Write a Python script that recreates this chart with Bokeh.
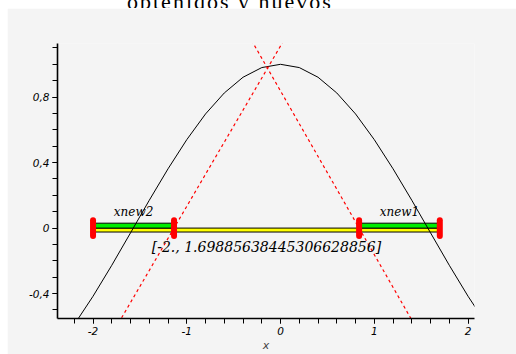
from bokeh.plotting import figure
from bokeh.models import Range1d, FixedTicker, CustomJSTickFormatter, Div, Spacer
from bokeh.layouts import column, row
from bokeh.core.properties import value
from bokeh.embed import file_html
from bokeh.resources import INLINE

# --- data -----------------------------------------------------------------
# f(x) sampled along the plotted range
curve_x = [-2.4, -2.2, -2.0, -1.8, -1.6, -1.4, -1.2, -1.0, -0.8, -0.6, -0.4, -0.2,
           0.0, 0.2, 0.4, 0.6, 0.8, 1.0, 1.2, 1.4, 1.6, 1.8, 2.0, 2.2]
curve_y = [-0.737, -0.589, -0.416, -0.227, -0.029, 0.170, 0.362, 0.540, 0.697, 0.825,
           0.921, 0.980, 1.000, 0.980, 0.921, 0.825, 0.697, 0.540, 0.362, 0.170,
           -0.029, -0.227, -0.416, -0.589]

interval = [-2.0, 1.69885638445306628856]   # [a, b]
interval_text = "[-2., 1.69885638445306628856]"
xnew1 = 0.838
xnew2 = -1.136
apex = (-0.139, 0.976)                      # where the two dashed lines meet

x_ticks = [-2, -1, 0, 1, 2]
y_ticks = [-0.4, 0.0, 0.4, 0.8]

# --- styles ---------------------------------------------------------------
BG = "#f4f4f4"
SERIF = "DejaVu Serif"
SANS = "DejaVu Sans"

p = figure(width=509, height=346,
           x_range=Range1d(-2.379, 2.069), y_range=Range1d(-0.552, 1.127),
           output_backend="svg", toolbar_location=None,
           min_border_left=50, min_border_right=42,
           min_border_top=35, min_border_bottom=34,
           background_fill_color=BG, border_fill_color=BG,
           outline_line_color=None, margin=0)
p.grid.visible = False

for ax in (p.xaxis[0], p.yaxis[0]):
    ax.axis_line_color = "black"
    ax.axis_line_width = 1.6
    ax.major_tick_in = 0
    ax.major_tick_out = 5
    ax.minor_tick_in = 0
    ax.minor_tick_out = 5
    ax.major_tick_line_color = "black"
    ax.minor_tick_line_color = "black"
    ax.major_label_text_font = SANS
    ax.major_label_text_font_style = "italic"
    ax.major_label_text_font_size = "10.5px"
    ax.major_label_text_color = "black"

p.xaxis.ticker = FixedTicker(ticks=x_ticks,
                             minor_ticks=[round(-2.4 + 0.2 * i, 1) for i in range(23)])
p.xaxis.formatter = CustomJSTickFormatter(code="return tick.toFixed(0);")
p.xaxis.major_label_standoff = 3
p.xaxis.axis_label = "x"
p.xaxis.axis_label_text_font = SANS
p.xaxis.axis_label_text_font_style = "italic"
p.xaxis.axis_label_text_font_size = "11px"
p.xaxis.axis_label_standoff = 1

p.yaxis.ticker = FixedTicker(ticks=y_ticks,
                             minor_ticks=[round(-0.5 + 0.1 * i, 1) for i in range(17)])
p.yaxis.formatter = CustomJSTickFormatter(
    code="if (Math.abs(tick) < 1e-9) { return '0'; } return tick.toFixed(1).replace('.', ',');")
p.yaxis.major_label_standoff = 3

a, b = interval
BAR_H = 0.03

# yellow band over the whole interval, green bands over the outer pieces
p.quad(left=[a], right=[b], bottom=[-0.8 * BAR_H], top=[0.0],
       fill_color="#ffff00", line_color="black", line_width=1)
p.quad(left=[a, xnew1], right=[xnew2, b], bottom=[0.0, 0.0], top=[BAR_H, BAR_H],
       fill_color="#00ee00", line_color="black", line_width=1)

# function curve
p.line(curve_x, curve_y, line_color="black", line_width=1)

# dashed lines through the two new points, meeting at the apex
ax0, ay0 = apex
for root in (xnew2, xnew1):
    m = ay0 / (ax0 - root)
    xs = [-2.6, 2.3]
    p.line(xs, [m * (x - root) for x in xs], line_color="#ff0000",
           line_width=1.2, line_dash="3 3")

# red end markers
ends = [a, xnew2, xnew1, b]
p.segment(x0=ends, y0=[-0.048] * 4, x1=ends, y1=[0.048] * 4,
          line_color="#ff0000", line_width=6, line_cap="round")

# labels
p.text(x=[(a + xnew2) / 2, (xnew1 + b) / 2], y=[0.097, 0.097], text=["xnew2", "xnew1"],
       text_font=value(SERIF), text_font_style="italic", text_font_size="12px",
       text_align="center", text_baseline="middle", text_color="black")
p.text(x=[(a + b) / 2], y=[-0.118], text=[interval_text],
       text_font=value(SERIF), text_font_style="italic", text_font_size="14px",
       text_align="center", text_baseline="middle", text_color="black")

caption = Div(
    text='<div style="font-family: \'Liberation Serif\'; font-size: 22px; line-height: 22px;'
         ' margin-top: -18px; transform: translateY(-3px); padding-left: 127px;'
         ' letter-spacing: 2px; white-space: nowrap; color: black;">'
         'obtenidos y nuevos</div>',
    width=516, height=8, margin=0, styles={"overflow": "hidden"})

layout = column(caption, row(Spacer(width=7, height=346, margin=0), p, margin=0),
                margin=0)

open("out.html", "w").write(file_html(layout, INLINE))
